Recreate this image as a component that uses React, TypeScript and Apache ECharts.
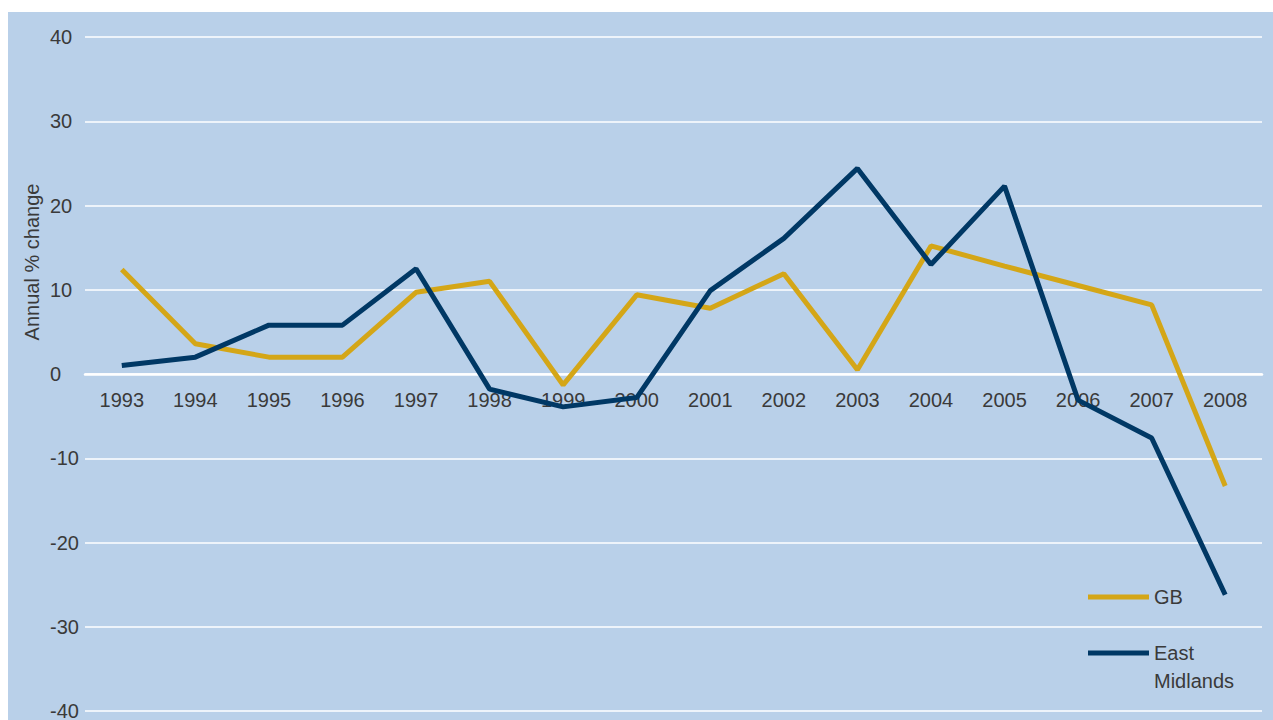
import React, { useEffect, useRef } from "react";
import * as echarts from "echarts";

const years = ["1993", "1994", "1995", "1996", "1997", "1998", "1999", "2000", "2001", "2002", "2003", "2004", "2005", "2006", "2007", "2008"];
const gbValues = [12.4, 3.6, 2.0, 2.0, 9.7, 11.0, -1.3, 9.4, 7.8, 11.9, 0.5, 15.2, 12.8, 10.5, 8.2, -13.3];
const eastMidlandsValues = [1.0, 2.0, 5.8, 5.8, 12.5, -1.8, -3.9, -2.8, 9.9, 16.1, 24.4, 13.0, 22.3, -3.1, -7.6, -26.2];
const yAxisTitle = "Annual % change";

const FONT = "'Liberation Sans', Arial, Helvetica, sans-serif";
const TEXT = "#3a3a3a";
const GOLD = "#d4a617";
const NAVY = "#003865";

const GRID_TOP = 25;
const GRID_BOTTOM = 9;
const CHART_H = 708;

export default function App() {
  const ref = useRef<HTMLDivElement>(null);
  useEffect(() => {
    if (!ref.current) return;
    const chart = echarts.init(ref.current, null, { renderer: "svg" });
    const gridH = CHART_H - GRID_TOP - GRID_BOTTOM;
    const legendBase = {
      orient: "vertical",
      left: 1080,
      padding: 0,
      icon: "rect",
      itemWidth: 61,
      itemHeight: 5,
      itemGap: 0,
      selectedMode: false,
      textStyle: { color: TEXT, fontSize: 20, fontFamily: FONT, lineHeight: 28 },
    };
    chart.setOption({
      animation: false,
      backgroundColor: "#b9d0e9",
      grid: {
        left: 77,
        right: 11,
        top: GRID_TOP,
        bottom: GRID_BOTTOM,
        containLabel: false,
        outerBoundsMode: "none",
      },
      xAxis: {
        type: "category",
        data: years,
        boundaryGap: true,
        position: "bottom",
        offset: -gridH / 2,
        axisLine: { onZero: false, lineStyle: { color: "#ffffff", width: 2.5 } },
        axisTick: { show: false },
        axisLabel: { color: TEXT, fontSize: 20, fontFamily: FONT, margin: 16, interval: 0 },
        splitLine: { show: false },
        z: 1,
      },
      yAxis: {
        type: "value",
        min: -40,
        max: 40,
        interval: 10,
        axisLine: { show: false },
        axisTick: { show: false },
        axisLabel: { color: TEXT, fontSize: 20, fontFamily: FONT, align: "left", margin: 35 },
        splitLine: { lineStyle: { color: "#ffffff", width: 1.5 } },
      },
      legend: [
        {
          ...legendBase,
          top: 571,
          data: [{ name: "GB" }],
        },
        {
          ...legendBase,
          top: 599,
          formatter: () => "\nEast\nMidlands",
          data: [{ name: "East Midlands" }],
        },
      ],
      graphic: [
        {
          type: "text",
          x: 24,
          y: 250,
          rotation: Math.PI / 2,
          style: {
            text: yAxisTitle,
            fill: TEXT,
            fontSize: 20,
            fontFamily: FONT,
            align: "center",
            verticalAlign: "middle",
          },
        },
      ],
      series: [
        {
          name: "GB",
          type: "line",
          data: gbValues,
          symbol: "none",
          lineStyle: { color: GOLD, width: 5 },
          itemStyle: { color: GOLD },
          z: 3,
        },
        {
          name: "East Midlands",
          type: "line",
          data: eastMidlandsValues,
          symbol: "none",
          lineStyle: { color: NAVY, width: 5 },
          itemStyle: { color: NAVY },
          z: 4,
        },
      ],
    });
    return () => chart.dispose();
  }, []);
  return (
    <div
      ref={ref}
      style={{ position: "absolute", left: 8, top: 12, width: 1265, height: 708 }}
    />
  );
}
